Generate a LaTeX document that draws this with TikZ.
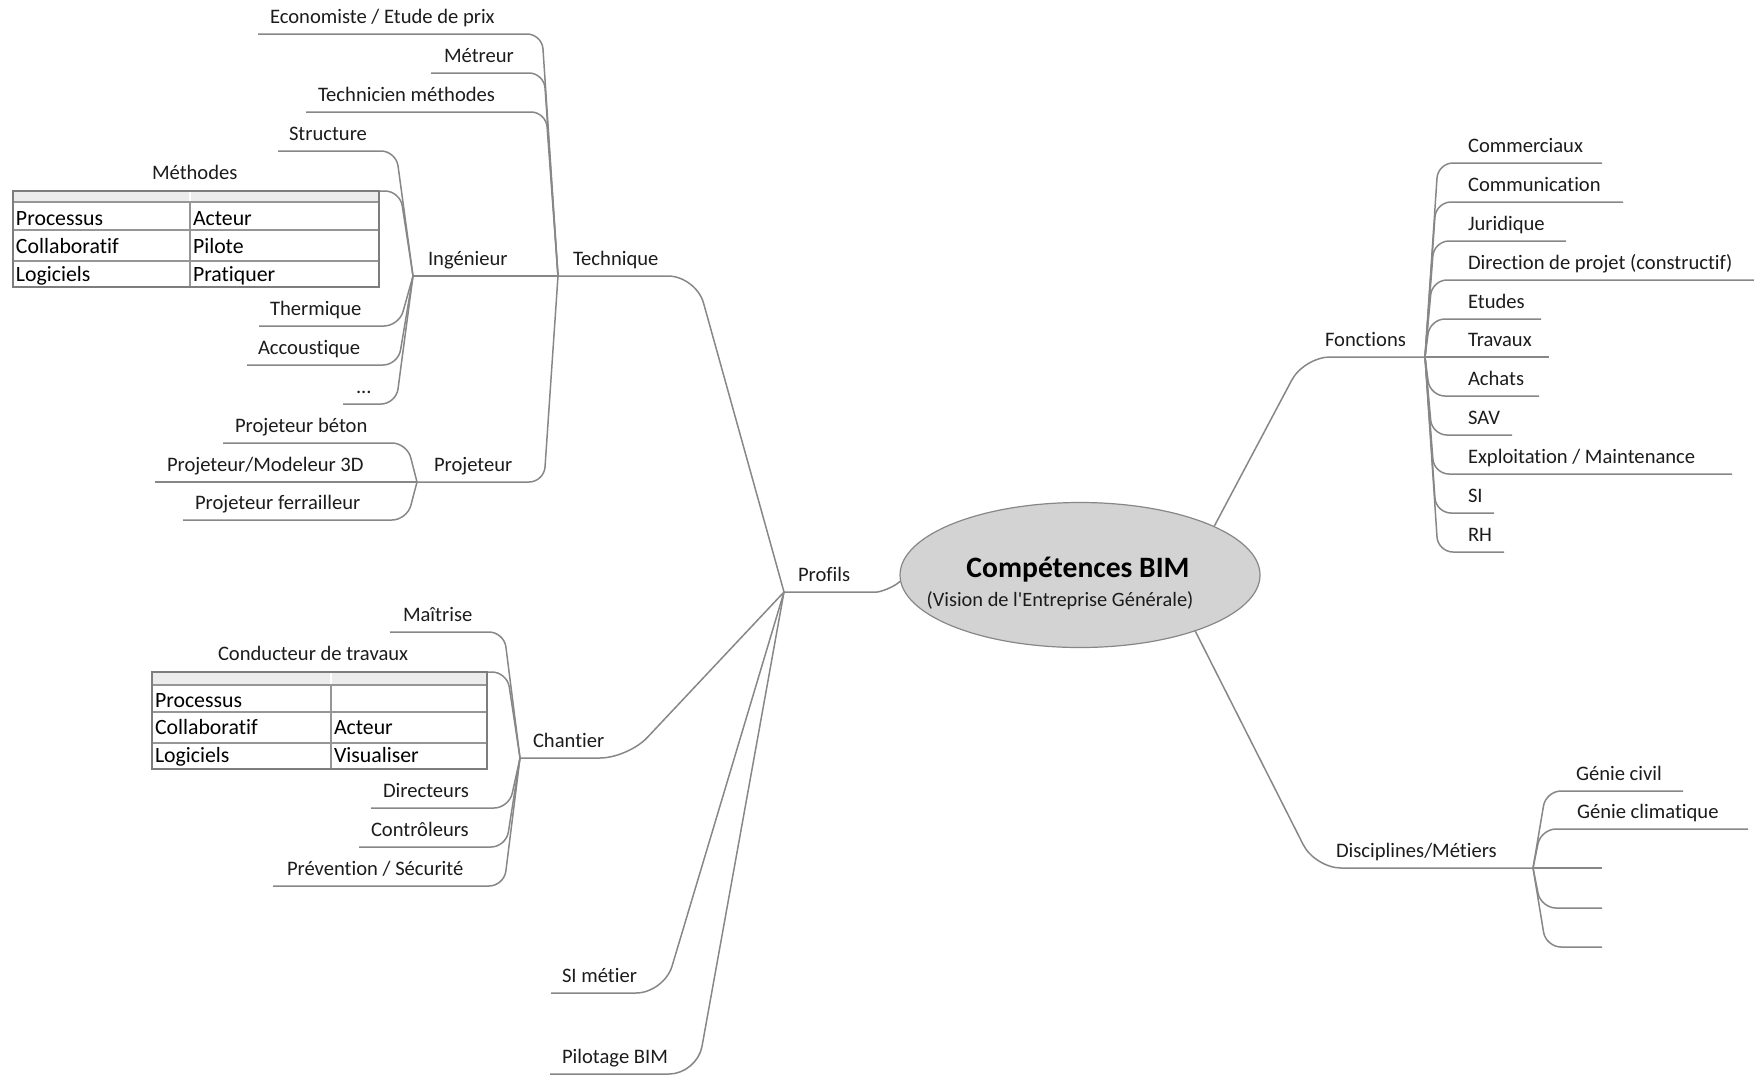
\documentclass[tikz,border=0pt]{standalone}
\usepackage{fontspec}
\setmainfont{Carlito}[Ligatures={NoCommon}]
\usetikzlibrary{shapes.geometric,calc}
\definecolor{ln}{RGB}{135,135,135}
\definecolor{txt}{RGB}{28,28,28}
\definecolor{ellfill}{RGB}{211,211,211}
\definecolor{tblborder}{RGB}{125,125,125}
\definecolor{tblinner}{RGB}{150,150,150}
\definecolor{tblhead}{RGB}{236,236,236}
\newcommand{\mmlink}[3]{\draw[conn] (#1) -- ($(#2 |- #1)+(#3,0)$) -- (#2);}
\begin{document}
\begin{tikzpicture}[x=0.5pt,y=-0.5pt,
  lbl/.style={anchor=base west, inner sep=0pt, outer sep=0pt, text=txt, font=\fontsize{10.3}{12}\selectfont},
  cell/.style={anchor=base west, inner sep=0pt, outer sep=0pt, text=black, font=\fontsize{10.9}{13}\selectfont},
  conn/.style={draw=ln, line width=0.75pt, rounded corners=7.5pt},
  bigconn/.style={conn, rounded corners=14pt},
  tframe/.style={draw=tblborder, line width=1.4pt},
  tline/.style={draw=tblinner, line width=0.8pt},
]
\useasboundingbox (0,0) rectangle (1754,1076);

% ---------- centre ----------
\node[ellipse, draw=ln, line width=0.6pt, fill=ellfill, minimum width=180pt, minimum height=72.5pt, inner sep=0pt] (center) at (1080,575) {};
\node[anchor=base, inner sep=0pt, font=\fontsize{14.8}{17}\selectfont\bfseries, text=black] (title) at (1078,577) {Compétences BIM};
\node[anchor=base, inner sep=0pt, font=\fontsize{10.2}{12}\selectfont, text=txt] (subtitle) at (1060,606) {(Vision de l\textquotesingle Entreprise Générale)};

% ---------- junctions ----------
\coordinate (tech-j) at (558,276);
\coordinate (ing-j) at (413,276);
\coordinate (proj-j) at (417,482);
\coordinate (prof-j) at (784,592);
\coordinate (chan-j) at (520,758);
\coordinate (fonc-j) at (1425,357);
\coordinate (disc-j) at (1533,868);

% ---------- Profils ----------
\node[lbl] (profils) at (798,581) {Profils};
\draw[conn] (prof-j) -- ($(prof-j)+(78,0)$) .. controls ($(prof-j)+(96,0)$) and ($(center.182)+(-6,6)$) .. (center.182);

% Technique
\node[lbl] (technique) at (573,265) {Technique};
\draw[bigconn] (tech-j) -- ($(prof-j |- tech-j)+(-88,0)$) -- (prof-j);

\node[lbl] (econ) at (270,23) {Economiste / Etude de prix};
\coordinate (econ-u) at (258,34);
\mmlink{econ-u}{tech-j}{-16}
\node[lbl] (metr) at (444,62) {Métreur};
\coordinate (metr-u) at (431,73);
\mmlink{metr-u}{tech-j}{-14}
\node[lbl] (tmeth) at (318,101) {Technicien méthodes};
\coordinate (tmeth-u) at (306,112);
\mmlink{tmeth-u}{tech-j}{-12}
\node[lbl] (ing) at (428,265) {Ingénieur};
\draw[conn] (ing-j) -- (tech-j);
\node[lbl] (proj) at (434,471) {Projeteur};
\mmlink{proj-j}{tech-j}{-14}

% Ingenieur children
\node[lbl] (struct) at (289,140) {Structure};
\coordinate (struct-u) at (278,151);
\mmlink{struct-u}{ing-j}{-17}
\node[lbl] (meth) at (152,179) {Méthodes};
\coordinate (t1-ne) at (379,191);
\mmlink{t1-ne}{ing-j}{-13}
\node[lbl] (therm) at (270,315) {Thermique};
\coordinate (therm-u) at (259,326);
\mmlink{therm-u}{ing-j}{-14}
\node[lbl] (acc) at (258,354) {Accoustique};
\coordinate (acc-u) at (247,365);
\mmlink{acc-u}{ing-j}{-15}
\node[lbl] (dots) at (356,393) {...};
\coordinate (dots-u) at (343,404);
\mmlink{dots-u}{ing-j}{-17}

% Table Methodes
\fill[tblhead] (13,191) rectangle (379,202);
\draw[tline] (13,202) -- (379,202) (13,230) -- (379,230) (13,261) -- (379,261) (190,202) -- (190,287);
\draw[draw=white, line width=0.8pt] (190,192) -- (190,201);
\draw[tframe] (13,191) rectangle (379,287);
\node[cell] (t1-a1) at (16,225) {Processus};
\node[cell] (t1-b1) at (193,225) {Acteur};
\node[cell] (t1-a2) at (16,253) {Collaboratif};
\node[cell] (t1-b2) at (193,253) {Pilote};
\node[cell] (t1-a3) at (16,281) {Logiciels};
\node[cell] (t1-b3) at (193,281) {Pratiquer};

% Projeteur children
\node[lbl] (beton) at (235,432) {Projeteur béton};
\coordinate (beton-u) at (223,443);
\mmlink{beton-u}{proj-j}{-10}
\node[lbl] (model) at (167,471) {Projeteur/Modeleur 3D};
\coordinate (model-u) at (155,482);
\draw[conn] (model-u) -- (proj-j);
\node[lbl] (ferr) at (195,509) {Projeteur ferrailleur};
\coordinate (ferr-u) at (183,520);
\mmlink{ferr-u}{proj-j}{-10}

% Chantier
\node[lbl] (chantier) at (533,747) {Chantier};
\draw[bigconn] (chan-j) -- ($(prof-j |- chan-j)+(-156,0)$) -- (prof-j);

\node[lbl] (maitr) at (403,621) {Maîtrise};
\coordinate (maitr-u) at (390,632);
\mmlink{maitr-u}{chan-j}{-16}
\node[lbl] (cond) at (218,660) {Conducteur de travaux};
\coordinate (t2-ne) at (487,672);
\mmlink{t2-ne}{chan-j}{-13}
\node[lbl] (direct) at (383,797) {Directeurs};
\coordinate (direct-u) at (371,808);
\mmlink{direct-u}{chan-j}{-11}
\node[lbl] (contr) at (371,836) {Contrôleurs};
\coordinate (contr-u) at (359,847);
\mmlink{contr-u}{chan-j}{-14}
\node[lbl] (prev) at (287,875) {Prévention / Sécurité};
\coordinate (prev-u) at (273,886);
\mmlink{prev-u}{chan-j}{-16}

% Table Conducteur
\fill[tblhead] (152,672) rectangle (487,685);
\draw[tline] (152,685) -- (487,685) (152,712) -- (487,712) (152,743) -- (487,743) (331,685) -- (331,769);
\draw[draw=white, line width=0.8pt] (331,673) -- (331,684);
\draw[tframe] (152,672) rectangle (487,769);
\node[cell] (t2-a1) at (155,707) {Processus};
\node[cell] (t2-a2) at (155,734) {Collaboratif};
\node[cell] (t2-b2) at (334,734) {Acteur};
\node[cell] (t2-a3) at (155,762) {Logiciels};
\node[cell] (t2-b3) at (334,762) {Visualiser};

% SI metier, Pilotage
\node[lbl] (simet) at (562,982) {SI métier};
\coordinate (simet-u) at (551,993);
\draw[bigconn] (simet-u) -- ($(prof-j |- simet-u)+(-120,0)$) -- (prof-j);
\node[lbl] (pilot) at (562,1063) {Pilotage BIM};
\coordinate (pilot-u) at (550,1074);
\draw[bigconn] (pilot-u) -- ($(prof-j |- pilot-u)+(-87,0)$) -- (prof-j);

% ---------- Fonctions ----------
\node[lbl] (fonctions) at (1325,346) {Fonctions};
\draw[conn, rounded corners=13pt] (center.20.7) -- ($(fonc-j)+(-121,0)$) -- (fonc-j);

\node[lbl] (comm) at (1468,152) {Commerciaux};
\coordinate (comm-u) at (1602,163);
\mmlink{comm-u}{fonc-j}{13}
\node[lbl] (commu) at (1468,191) {Communication};
\coordinate (commu-u) at (1623,202);
\mmlink{commu-u}{fonc-j}{11}
\node[lbl] (jur) at (1468,230) {Juridique};
\coordinate (jur-u) at (1566,241);
\mmlink{jur-u}{fonc-j}{9}
\node[lbl] (dirp) at (1468,269) {Direction de projet (constructif)};
\coordinate (dirp-u) at (1754,280);
\mmlink{dirp-u}{fonc-j}{7}
\node[lbl] (etu) at (1468,308) {Etudes};
\coordinate (etu-u) at (1541,319);
\mmlink{etu-u}{fonc-j}{5}
\node[lbl] (trav) at (1468,346) {Travaux};
\coordinate (trav-u) at (1549,357);
\draw[conn] (fonc-j) -- (trav-u);
\node[lbl] (ach) at (1468,385) {Achats};
\coordinate (ach-u) at (1539,396);
\mmlink{ach-u}{fonc-j}{5}
\node[lbl] (sav) at (1468,424) {SAV};
\coordinate (sav-u) at (1512,435);
\mmlink{sav-u}{fonc-j}{7}
\node[lbl] (expl) at (1468,463) {Exploitation / Maintenance};
\coordinate (expl-u) at (1732,474);
\mmlink{expl-u}{fonc-j}{9}
\node[lbl] (si) at (1468,502) {SI};
\coordinate (si-u) at (1494,513);
\mmlink{si-u}{fonc-j}{11}
\node[lbl] (rh) at (1468,541) {RH};
\coordinate (rh-u) at (1504,552);
\mmlink{rh-u}{fonc-j}{13}

% ---------- Disciplines ----------
\node[lbl] (disc) at (1336,857) {Disciplines/Métiers};
\draw[conn, rounded corners=13pt] (center.-26.4) -- ($(disc-j)+(-218,0)$) -- (disc-j);

\node[lbl] (gciv) at (1576,780) {Génie civil};
\coordinate (gciv-u) at (1683,791);
\mmlink{gciv-u}{disc-j}{13}
\node[lbl] (gclim) at (1577,818) {Génie climatique};
\coordinate (gclim-u) at (1748,829);
\mmlink{gclim-u}{disc-j}{8}
\coordinate (e1-u) at (1602,868);
\draw[conn] (disc-j) -- (e1-u);
\coordinate (e2-u) at (1602,908);
\mmlink{e2-u}{disc-j}{8}
\coordinate (e3-u) at (1602,947);
\mmlink{e3-u}{disc-j}{13}
\end{tikzpicture}
\end{document}
